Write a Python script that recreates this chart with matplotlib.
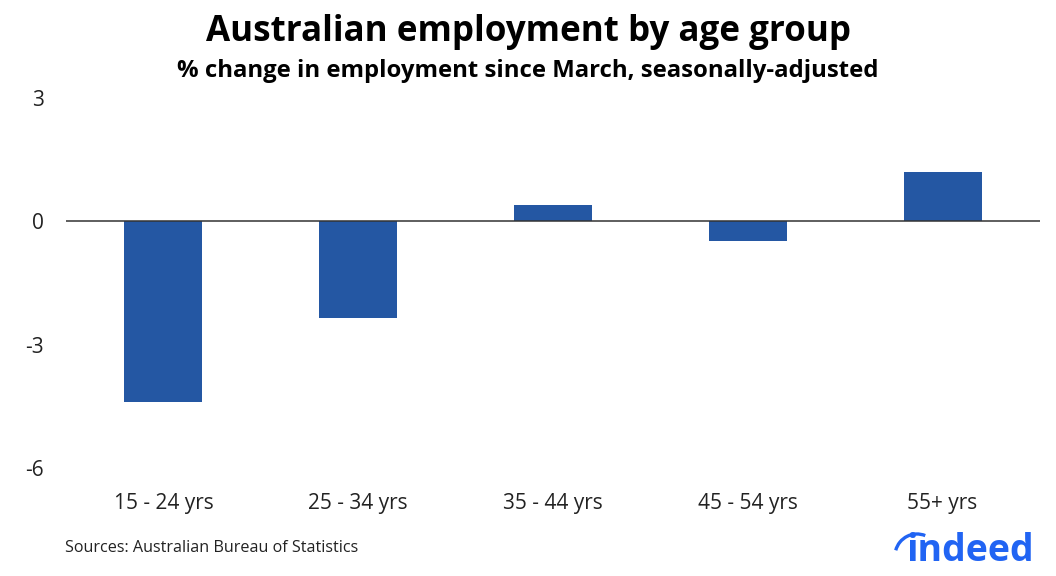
import matplotlib
matplotlib.use("Agg")
import matplotlib.pyplot as plt
from matplotlib.patches import Arc
import numpy as np

plt.rcParams["font.family"] = ["Open Sans", "DejaVu Sans"]

# data
age_groups = ["15 - 24 yrs", "25 - 34 yrs", "35 - 44 yrs", "45 - 54 yrs", "55+ yrs"]
pct_change = [-4.4, -2.35, 0.4, -0.47, 1.2]
y_ticks = [-6, -3, 0, 3]

BAR_COLOR = "#2457A3"
TEXT_COLOR = "#222222"

fig = plt.figure(figsize=(10.56, 5.76), dpi=100)
ax = fig.add_axes([66 / 1056, 1 - 468 / 576, (1040 - 66) / 1056, (468 - 98) / 576])

x = np.arange(len(age_groups))
ax.bar(x, pct_change, width=0.4, color=BAR_COLOR, zorder=2)
ax.axhline(0, color="#333333", linewidth=1.1, zorder=3)

ax.set_xlim(-0.5, len(age_groups) - 0.5)
ax.set_ylim(-6, 3)
ax.set_yticks(y_ticks)
ax.set_yticklabels([str(v) for v in y_ticks])
ax.set_xticks(x)
ax.set_xticklabels(age_groups)
ax.tick_params(axis="both", length=0, labelsize=15, colors=TEXT_COLOR)
ax.tick_params(axis="y", pad=16)
ax.tick_params(axis="x", pad=18)
for side in ["top", "right", "bottom", "left"]:
    ax.spines[side].set_visible(False)

fig.text(0.5, 1 - 32 / 576, "Australian employment by age group", ha="center", va="center",
         fontsize=25.2, fontweight="bold", color="black")
fig.text(0.5, 1 - 71 / 576, "% change in employment since March, seasonally-adjusted", ha="center",
         va="center", fontsize=17.2, fontweight="bold", color="black")
fig.text(65 / 1056, 1 - 548 / 576, "Sources: Australian Bureau of Statistics", ha="left", va="center",
         fontsize=11.6, color=TEXT_COLOR)

# indeed logo (approximation), drawn in pixel coordinates
logo_blue = "#2164F3"
overlay = fig.add_axes([0, 0, 1, 1])
overlay.set_xlim(0, 1056)
overlay.set_ylim(576, 0)
overlay.axis("off")
overlay.text(1034, 551, "indeed", ha="right", va="center", fontsize=27,
             fontweight="bold", color=logo_blue)
overlay.add_patch(Arc((917, 556), 44, 44, theta1=195, theta2=292, color=logo_blue, linewidth=2.4))

fig.savefig("out.png", dpi=100)
